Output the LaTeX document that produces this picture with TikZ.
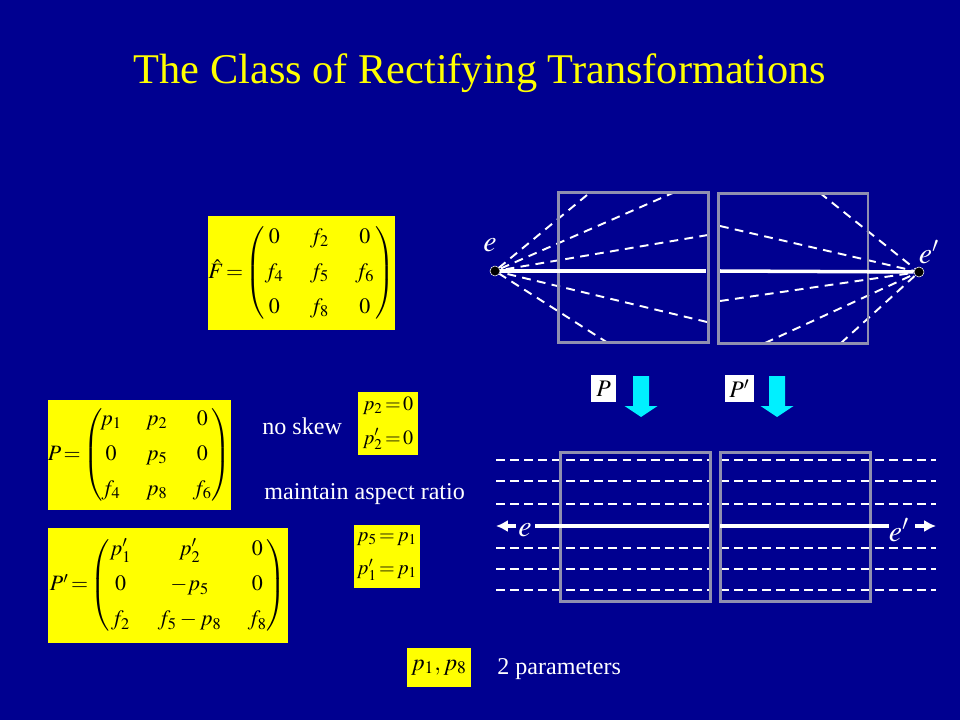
\documentclass[tikz,border=0pt]{standalone}
\usepackage{amsmath}
\usepackage{mathptmx}
\usepackage[no-math]{fontspec}
\setmainfont{Liberation Serif}
\usepackage{xcolor}
\usetikzlibrary{positioning,arrows.meta}
\definecolor{slideblue}{HTML}{000090}
\definecolor{framegrey}{HTML}{8F8FB0}
\definecolor{boxyellow}{HTML}{FFFF00}
\definecolor{arrowcyan}{HTML}{00F0FF}
\newcommand{\shorteq}{\mskip-2mu=\mskip-2mu}
\tikzset{
    title/.style = {text = boxyellow, font = \fontsize{24.1}{30}\selectfont},
    caption/.style = {text = white, font = \fontsize{13.7}{16}\selectfont, anchor = west, inner sep = 0pt},
    yellowbox/.style = {fill = boxyellow, text = black, inner sep = 0pt, font = \fontsize{12.5}{15}\selectfont},
    smallbox/.style = {fill = boxyellow, text = black, inner sep = 0pt, align = center, font = \fontsize{11.5}{14}\selectfont},
    whitebox/.style = {fill = white, text = black, inner sep = 0pt, font = \fontsize{13.5}{15}\selectfont},
    imageframe/.style = {draw = framegrey, line width = 1.7pt, minimum width = 3cm, minimum height = 3cm, inner sep = 0pt},
    epipole/.style = {circle, fill = black, draw = white, line width = 0.3pt, minimum size = 0.2cm, inner sep = 0pt},
    elabel/.style = {text = white, inner sep = 0pt, font = \fontsize{17}{18}\selectfont},
    raydash/.style = {white, line width = 1.1pt, dash pattern = on 5pt off 3.6pt},
    scandash/.style = {white, line width = 1.1pt, dash pattern = on 5.1pt off 2.9pt},
    solidline/.style = {white, line width = 2pt},
    flatarrow/.style = {white, line width = 2pt, -{Latex[length=6.8pt,width=7pt]}},
}
\begin{document}
\begin{tikzpicture}[x=0.02cm,y=-0.02cm]
    \useasboundingbox[fill = slideblue] (0,0) rectangle (960,720);
    \node[title] (heading) at (480,73) {The Class of Rectifying Transformations};

    % yellow formula boxes
    \node[yellowbox, minimum width = 3.74cm, minimum height = 2.28cm] (fbox) at (301.5,273) {%
        $\hat{F}\shorteq\left(\begin{array}{@{\hspace{0em}}c@{\hspace{1.2em}}c@{\hspace{1.2em}}c@{\hspace{0.05em}}}
        0 & f_2 & 0\\[5pt] f_4 & f_5 & f_6\\[5pt] 0 & f_8 & 0\end{array}\right)$};
    \node[yellowbox, minimum width = 3.66cm, minimum height = 2.2cm] (pbox) at (139.5,455) {%
        $P\shorteq\left(\begin{array}{@{\hspace{-0.1em}}c@{\hspace{1.1em}}c@{\hspace{1.15em}}c@{\hspace{0em}}}
        p_1 & p_2 & 0\\[5pt] 0 & p_5 & 0\\[5pt] f_4 & p_8 & f_6\end{array}\right)$};
    \node[yellowbox, minimum width = 4.8cm, minimum height = 2.3cm] (pprimebox) at (168,585.5) {%
        $P'\shorteq\left(\begin{array}{@{\hspace{0em}}c@{\hspace{1.2em}}c@{\hspace{1.2em}}c@{\hspace{0em}}}
        p_1' & p_2' & 0\\[5pt] 0 & -p_5 & 0\\[5pt] f_2 & f_5-p_8 & f_8\end{array}\right)$};
    \node[smallbox, minimum width = 1.2cm, minimum height = 1.26cm] (skewbox) at (388,423.5) {%
        $p_2\shorteq 0$\\[5pt]$p_2'\shorteq 0$};
    \node[smallbox, minimum width = 1.32cm, minimum height = 1.26cm] (ratiobox) at (387,556.5) {%
        $p_5\shorteq p_1$\\[5pt]$p_1'\shorteq p_1$};
    \node[yellowbox, minimum width = 1.28cm, minimum height = 0.78cm, font = \fontsize{13.5}{15}\selectfont] (parambox) at (439,667.5) {$p_1,p_8$};

    \node[caption] (noskew) at (262,426) {no skew};
    \node[caption] (aspect) at (264,494) {maintain aspect ratio};
    \node[caption] (params) at (497,669) {2 parameters};

    % upper pair of images
    \node[epipole] (e) at (495,271) {};
    \node[epipole] (eprime) at (919,272) {};
    \foreach \i/\x/\y in {1/587/195,2/675/192,3/708/235,4/707/322,5/608/343}{
        \coordinate (lray\i) at (\x,\y);
        \draw[raydash] (lray\i) -- (e);
    }
    \foreach \i/\x/\y in {1/820/193,2/720/226,3/720/301,4/765/343,5/841/343}{
        \coordinate (rray\i) at (\x,\y);
        \draw[raydash] (rray\i) -- (eprime);
    }
    \node[imageframe] (topleft) at (633.5,267.5) {};
    \node[imageframe] (topright) at (793,268.5) {};
    \coordinate (lmid) at (706,271);
    \coordinate (rmid) at (720,271);
    \draw[solidline] (e) -- (lmid);
    \draw[solidline] (rmid) -- (eprime);
    \node[elabel] (elabeltop) at (490,245) {$e$};
    \node[elabel] (eprimelabeltop) at (929,252) {$e'$};

    % transformations
    \node[whitebox, minimum width = 0.5cm, minimum height = 0.54cm] (pname) at (603.5,388.5) {$P$};
    \node[whitebox, minimum width = 0.58cm, minimum height = 0.54cm] (pprimename) at (739.5,388.5) {$P'$};
    \foreach \x in {641,777}{
        \fill[arrowcyan] (\x-8,376) -- (\x+8,376) -- (\x+8,406) -- (\x+16.5,406) -- (\x,417) -- (\x-16.5,406) -- (\x-8,406) -- cycle;
    }

    % lower pair of images
    \foreach \y in {460,481,504,548,569,590}{
        \coordinate (sa\y) at (496,\y);
        \coordinate (sb\y) at (709,\y);
        \coordinate (sc\y) at (720,\y);
        \coordinate (sd\y) at (936,\y);
        \draw[scandash] (sa\y) -- (sb\y);
        \draw[scandash] (sc\y) -- (sd\y);
    }
    \node[imageframe] (botleft) at (635.5,527) {};
    \node[imageframe] (botright) at (795.5,527) {};
    \node[elabel] (elabelbot) at (525,530) {$e$};
    \node[elabel] (eprimelabelbot) at (899,530) {$e'$};
    \coordinate (blmid) at (709,526);
    \coordinate (brmid) at (720,526);
    \coordinate (bleft) at (496,526);
    \coordinate (bright) at (936,526);
    \coordinate (blstart) at (535,526);
    \coordinate (brend) at (889,526);
    \coordinate (alstart) at (516,526);
    \coordinate (arstart) at (915,526);
    \draw[solidline] (blstart) -- (blmid);
    \draw[solidline] (brmid) -- (brend);
    \draw[flatarrow] (alstart) -- (bleft);
    \draw[flatarrow] (arstart) -- (bright);
\end{tikzpicture}
\end{document}
